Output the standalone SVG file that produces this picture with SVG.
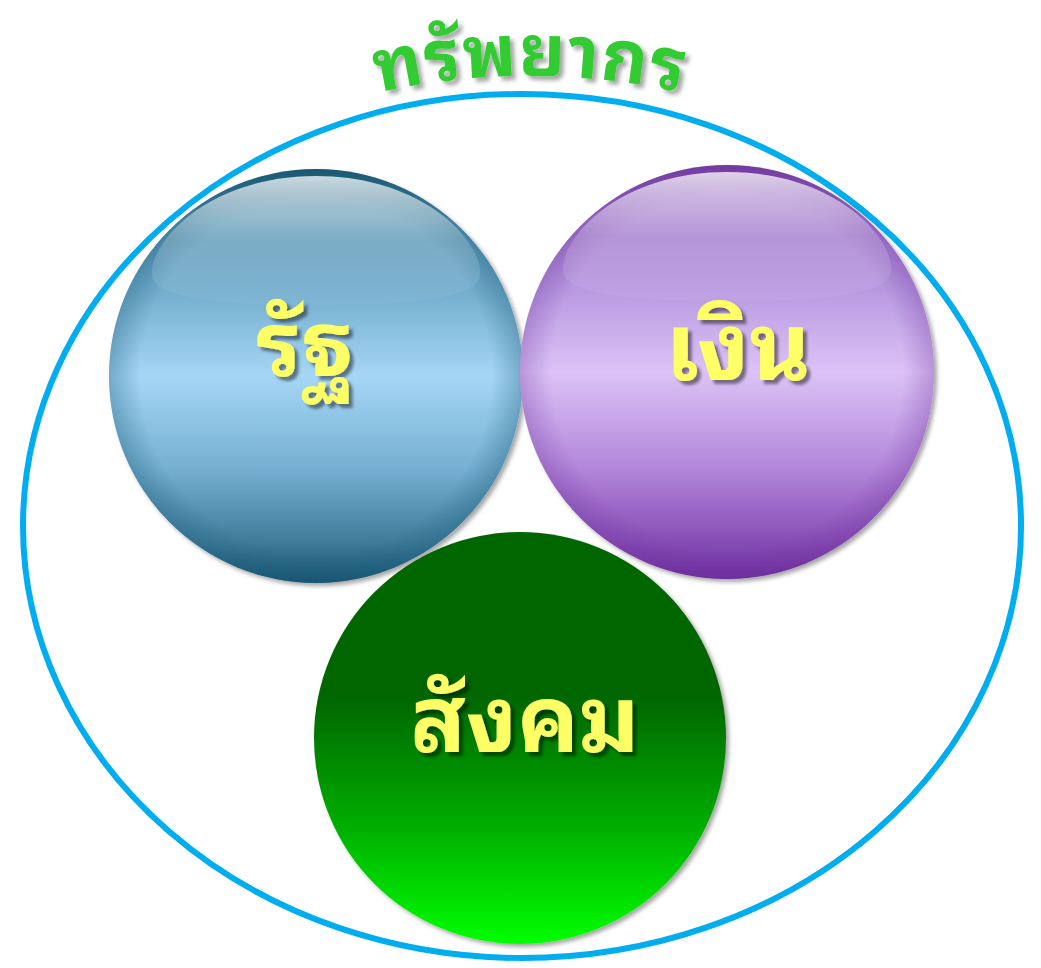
<svg xmlns="http://www.w3.org/2000/svg" width="1041" height="968" viewBox="0 0 1041 968">
<defs>
<style>
.lbl{font-family:"Noto Sans Thai Looped","Noto Serif Thai","Noto Sans Thai","Noto Sans","DejaVu Sans",sans-serif;font-weight:bold;fill:#FFFF66;text-anchor:middle;filter:url(#tshadow)}
.title{font-family:"Noto Sans Thai Looped","Noto Serif Thai","Noto Sans Thai","Noto Sans","DejaVu Sans",sans-serif;font-weight:bold;fill:#33CC33;font-size:72px;letter-spacing:1px}
</style>
<filter id="tshadow" x="-20%" y="-20%" width="140%" height="140%">
<feGaussianBlur in="SourceAlpha" stdDeviation="1.5"/>
<feOffset dx="4" dy="4" result="b"/>
<feFlood flood-color="#000" flood-opacity="0.45"/>
<feComposite in2="b" operator="in"/>
<feMerge><feMergeNode/><feMergeNode in="SourceGraphic"/></feMerge>
</filter>
<filter id="tshadow2" filterUnits="userSpaceOnUse" x="300" y="0" width="460" height="140">
<feGaussianBlur in="SourceAlpha" stdDeviation="2"/>
<feOffset dx="4" dy="4" result="b"/>
<feFlood flood-color="#000" flood-opacity="0.35"/>
<feComposite in2="b" operator="in"/>
<feMerge><feMergeNode/><feMergeNode in="SourceGraphic"/></feMerge>
</filter>
<filter id="sshadow" x="-10%" y="-10%" width="125%" height="125%">
<feGaussianBlur in="SourceAlpha" stdDeviation="2"/>
<feOffset dx="3" dy="3" result="b"/>
<feFlood flood-color="#000" flood-opacity="0.35"/>
<feComposite in2="b" operator="in"/>
<feMerge><feMergeNode/><feMergeNode in="SourceGraphic"/></feMerge>
</filter>
<linearGradient id="gBlue" x1="0" y1="0" x2="0" y2="1">
<stop offset="0" stop-color="#185670"/>
<stop offset="0.12" stop-color="#4F8FAE"/>
<stop offset="0.3" stop-color="#74AECE"/>
<stop offset="0.5" stop-color="#A6D6F6"/>
<stop offset="0.72" stop-color="#76B0D2"/>
<stop offset="0.9" stop-color="#3F7D9B"/>
<stop offset="1" stop-color="#165470"/>
</linearGradient>
<radialGradient id="gBlueEdge" cx="0.5" cy="0.5" r="0.5">
<stop offset="0.85" stop-color="#1a5a78" stop-opacity="0"/>
<stop offset="1" stop-color="#1a5a78" stop-opacity="0.35"/>
</radialGradient>
<linearGradient id="gPurple" x1="0" y1="0" x2="0" y2="1">
<stop offset="0" stop-color="#7440A0"/>
<stop offset="0.12" stop-color="#9A70C8"/>
<stop offset="0.3" stop-color="#B899E0"/>
<stop offset="0.5" stop-color="#DCC2F6"/>
<stop offset="0.72" stop-color="#B58ADC"/>
<stop offset="0.9" stop-color="#8A50B8"/>
<stop offset="1" stop-color="#6E2E9E"/>
</linearGradient>
<radialGradient id="gPurpleEdge" cx="0.5" cy="0.5" r="0.5">
<stop offset="0.85" stop-color="#6a2e9a" stop-opacity="0"/>
<stop offset="1" stop-color="#6a2e9a" stop-opacity="0.3"/>
</radialGradient>
<linearGradient id="gHi" x1="0" y1="0" x2="0" y2="1">
<stop offset="0" stop-color="#fff" stop-opacity="0.95"/>
<stop offset="0.5" stop-color="#fff" stop-opacity="0.25"/>
<stop offset="1" stop-color="#fff" stop-opacity="0.05"/>
</linearGradient>
<linearGradient id="gGreen" x1="0" y1="0" x2="0" y2="1">
<stop offset="0" stop-color="#006600"/>
<stop offset="0.4" stop-color="#006600"/>
<stop offset="0.7" stop-color="#00AA00"/>
<stop offset="1" stop-color="#00FF00"/>
</linearGradient>
<path id="arc" d="M 340 102 Q 528 50 720 102"/>
</defs>

<g id="resources">
<ellipse cx="522" cy="526" rx="499" ry="432" fill="none" stroke="#00AEEF" stroke-width="6"/>
<g filter="url(#tshadow2)">
<text class="title"><textPath href="#arc" startOffset="50%" text-anchor="middle">ทรัพยากร</textPath></text>
</g>
</g>

<g id="state" filter="url(#sshadow)">
<circle cx="316" cy="376" r="207" fill="url(#gBlue)"/>
<circle cx="316" cy="376" r="207" fill="url(#gBlueEdge)"/>
<path d="M 316 176 C 210 176 150 240 152 275 C 154 300 230 305 316 305 C 402 305 478 300 480 275 C 482 240 422 176 316 176 Z" fill="url(#gHi)" opacity="0.8"/>
<text class="lbl" x="305" y="376" font-size="90">รัฐ</text>
</g>

<g id="money" filter="url(#sshadow)">
<circle cx="727" cy="372" r="207" fill="url(#gPurple)"/>
<circle cx="727" cy="372" r="207" fill="url(#gPurpleEdge)"/>
<path d="M 727 172 C 621 172 561 236 563 271 C 565 296 641 301 727 301 C 813 301 889 296 891 271 C 893 236 833 172 727 172 Z" fill="url(#gHi)" opacity="0.8"/>
<text class="lbl" x="738" y="380" font-size="94">เงิน</text>
</g>

<g id="society" filter="url(#sshadow)">
<circle cx="520" cy="738" r="206" fill="url(#gGreen)"/>
<text class="lbl" x="525" y="752" font-size="92">สังคม</text>
</g>

<g id="connectors"/>
</svg>
